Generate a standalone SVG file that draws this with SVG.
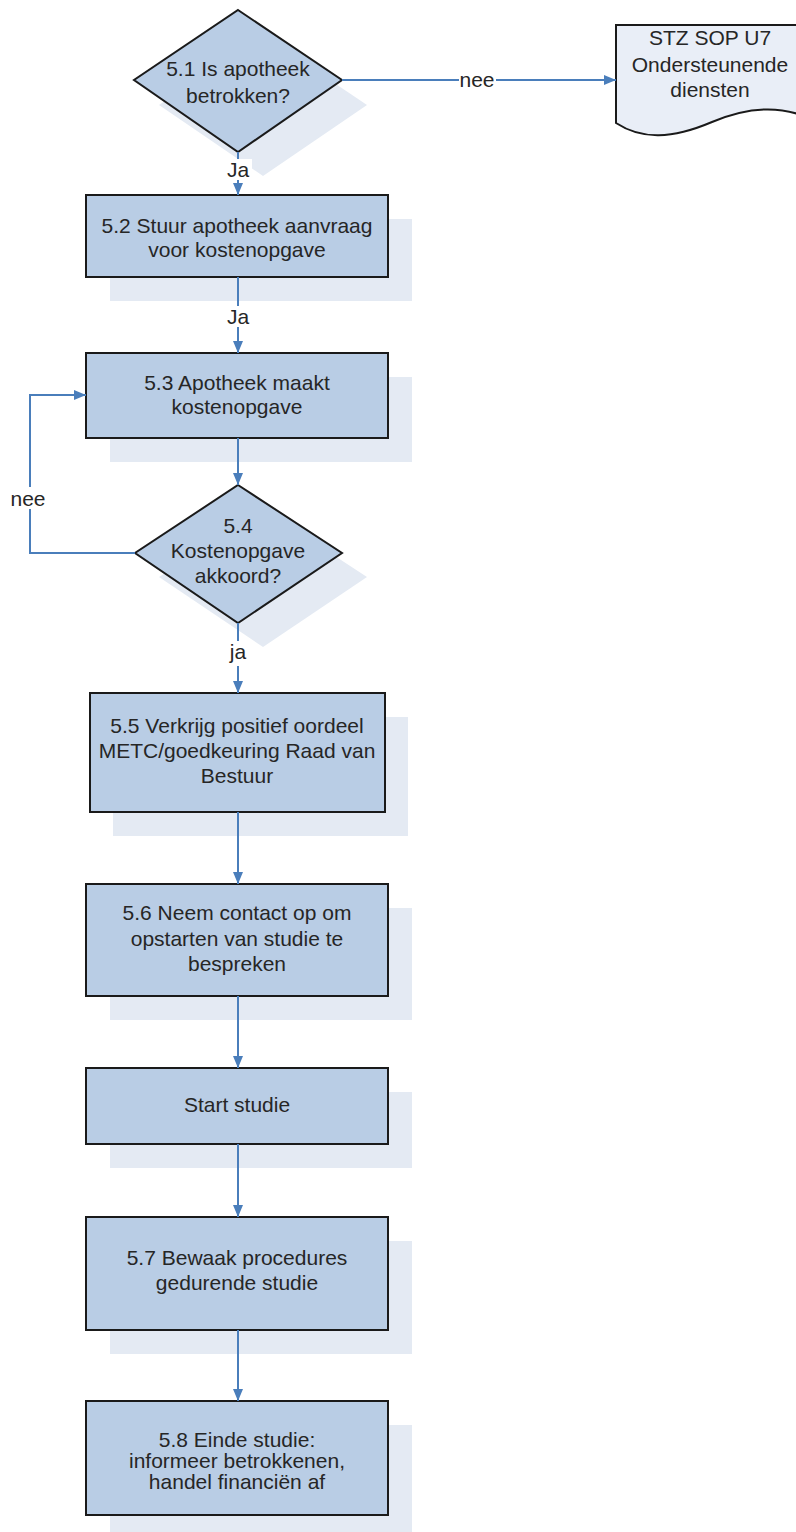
<svg xmlns="http://www.w3.org/2000/svg" width="796" height="1532" viewBox="0 0 796 1532">
<style>
.sh{fill:#e4eaf3;stroke:none}
.bx{fill:#b9cde5;stroke:#1a1a1a;stroke-width:2}
.doc{fill:#e9eef7;stroke:#1a1a1a;stroke-width:2}
.t{font-family:"Liberation Sans",Arial,sans-serif;font-size:21px;fill:#262626;text-anchor:middle}
.c{fill:none;stroke:#4a7ebb;stroke-width:2}
.lb{fill:#ffffff;stroke:none}
</style>
<defs>
<marker id="ah" markerUnits="userSpaceOnUse" viewBox="0 0 12 10" markerWidth="12" markerHeight="10" refX="12" refY="5" orient="auto">
<path d="M0,0 L12,5 L0,10 z" fill="#4a7ebb"/>
</marker>
</defs>
<rect width="796" height="1532" fill="#ffffff"/>

<g id="n51">
<polygon class="sh" points="263,35 367,105 263,176 159,105"/>
<polygon class="bx" points="238,10 342,80 238,152 134,80"/>
<text class="t" x="238" y="76">5.1 Is apotheek</text>
<text class="t" x="238" y="103">betrokken?</text>
</g>

<g id="doc">
<path class="doc" d="M616,25 H806 V117 C780,106 750,106 712,122 C672,139 642,140 616,123 Z"/>
<text class="t" x="710" y="45">STZ SOP U7</text>
<text class="t" x="710" y="72">Ondersteunende</text>
<text class="t" x="710" y="97">diensten</text>
</g>

<g id="n52">
<rect class="sh" x="110" y="219" width="302" height="82"/>
<rect class="bx" x="86" y="195" width="302" height="82"/>
<text class="t" x="237" y="233">5.2 Stuur apotheek aanvraag</text>
<text class="t" x="237" y="257">voor kostenopgave</text>
</g>

<g id="n53">
<rect class="sh" x="110" y="377" width="302" height="85"/>
<rect class="bx" x="86" y="353" width="302" height="85"/>
<text class="t" x="237" y="390">5.3 Apotheek maakt</text>
<text class="t" x="237" y="414">kostenopgave</text>
</g>

<g id="n54">
<polygon class="sh" points="263,509 367,577 263,647 159,577"/>
<polygon class="bx" points="238,485 342,553 238,623 135,553"/>
<text class="t" x="238" y="533">5.4</text>
<text class="t" x="238" y="558">Kostenopgave</text>
<text class="t" x="238" y="583">akkoord?</text>
</g>

<g id="n55">
<rect class="sh" x="113" y="717" width="295" height="119"/>
<rect class="bx" x="90" y="693" width="295" height="119"/>
<text class="t" x="237" y="733">5.5 Verkrijg positief oordeel</text>
<text class="t" x="237" y="758">METC/goedkeuring Raad van</text>
<text class="t" x="237" y="783">Bestuur</text>
</g>

<g id="n56">
<rect class="sh" x="110" y="908" width="302" height="112"/>
<rect class="bx" x="86" y="884" width="302" height="112"/>
<text class="t" x="237" y="920">5.6 Neem contact op om</text>
<text class="t" x="237" y="946">opstarten van studie te</text>
<text class="t" x="237" y="971">bespreken</text>
</g>

<g id="start">
<rect class="sh" x="110" y="1092" width="302" height="76"/>
<rect class="bx" x="86" y="1068" width="302" height="76"/>
<text class="t" x="237" y="1112">Start studie</text>
</g>

<g id="n57">
<rect class="sh" x="110" y="1241" width="302" height="113"/>
<rect class="bx" x="86" y="1217" width="302" height="113"/>
<text class="t" x="237" y="1265">5.7 Bewaak procedures</text>
<text class="t" x="237" y="1290">gedurende studie</text>
</g>

<g id="n58">
<rect class="sh" x="110" y="1425" width="302" height="114"/>
<rect class="bx" x="86" y="1401" width="302" height="114"/>
<text class="t" x="237" y="1447">5.8 Einde studie:</text>
<text class="t" x="237" y="1468">informeer betrokkenen,</text>
<text class="t" x="237" y="1489">handel financiën af</text>
</g>

<g id="connectors">
<path class="c" d="M342,80 H616" marker-end="url(#ah)"/>
<rect class="lb" x="459" y="70" width="37" height="20"/>
<text class="t" x="477" y="87">nee</text>

<path class="c" d="M238,152 V195" marker-end="url(#ah)"/>
<rect class="lb" x="224" y="159" width="28" height="21"/>
<text class="t" x="238" y="177">Ja</text>

<path class="c" d="M238,277 V353" marker-end="url(#ah)"/>
<rect class="lb" x="224" y="306" width="28" height="21"/>
<text class="t" x="238" y="324">Ja</text>

<path class="c" d="M238,438 V485" marker-end="url(#ah)"/>

<path class="c" d="M238,623 V693" marker-end="url(#ah)"/>
<rect class="lb" x="228" y="641" width="20" height="25"/>
<text class="t" x="238" y="659">ja</text>

<path class="c" d="M135,553 H30 V395 H86" marker-end="url(#ah)"/>
<rect class="lb" x="10" y="487" width="37" height="22"/>
<text class="t" x="28" y="506">nee</text>

<path class="c" d="M238,812 V884" marker-end="url(#ah)"/>
<path class="c" d="M238,996 V1068" marker-end="url(#ah)"/>
<path class="c" d="M238,1144 V1217" marker-end="url(#ah)"/>
<path class="c" d="M238,1330 V1401" marker-end="url(#ah)"/>
</g>
</svg>
